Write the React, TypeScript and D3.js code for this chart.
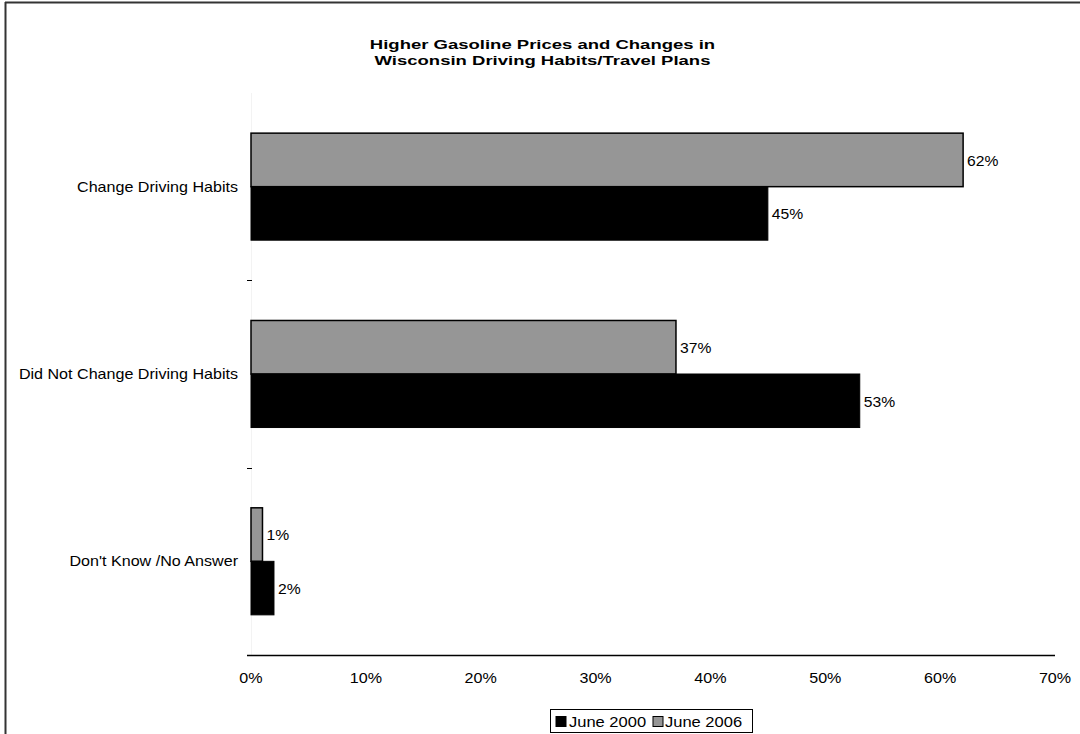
import React from "react";
import * as d3 from "d3";

const categories = ["Change Driving Habits", "Did Not Change Driving Habits", "Don't Know /No Answer"];
const seriesNames = ["June 2000", "June 2006"];
const june2000 = [45, 53, 2];
const june2006 = [62, 37, 1];
const xTicks = [0, 10, 20, 30, 40, 50, 60, 70];
const titleLines = ["Higher Gasoline Prices and Changes in", "Wisconsin Driving Habits/Travel Plans"];

const W = 1080;
const H = 734;
const FONT = "'Liberation Sans', Arial, Helvetica, sans-serif";
const GREY = "#969696";

type STextProps = {
  x: number;
  y: number;
  sx: number;
  size: number;
  anchor?: "start" | "middle" | "end";
  bold?: boolean;
  dy?: string;
  children: React.ReactNode;
};

function SText({ x, y, sx, size, anchor = "start", bold, dy, children }: STextProps) {
  return (
    <text
      transform={`translate(${x},${y}) scale(${sx},1)`}
      textAnchor={anchor}
      fontSize={size}
      fontWeight={bold ? "bold" : "normal"}
      dy={dy}
      fill="#000"
    >
      {children}
    </text>
  );
}

export default function App() {
  const left = 251, right = 1055, top = 93, bottom = 655;
  const x = d3.scaleLinear().domain([0, 70]).range([left, right]);
  const y = d3.scaleBand<string>().domain(categories).range([top, bottom]);
  const bw = y.bandwidth();
  const barH = bw / 3.5;
  const inner = d3.scaleBand<string>().domain(["June 2006", "June 2000"]).range([bw / 2 - barH, bw / 2 + barH]);

  const rows = categories.map((c, i) => ({ c, v2000: june2000[i], v2006: june2006[i] }));

  return (
    <svg width={W} height={H} style={{ position: "absolute", left: 0, top: 0, display: "block" }} fontFamily={FONT}>
      <rect x={0} y={0} width={W} height={H} fill="#fff" />
      {/* frame */}
      <line x1={5.5} y1={2} x2={5.5} y2={H} stroke="#333" strokeWidth={2} />
      <line x1={5} y1={2.5} x2={W} y2={2.5} stroke="#333" strokeWidth={2} />
      {/* title */}
      {titleLines.map((t, i) => (
        <SText key={i} x={542.5} y={49 + i * 16} sx={1.37} size={13.5} anchor="middle" bold>
          {t}
        </SText>
      ))}
      {/* faint category axis */}
      <line x1={left + 0.5} y1={top} x2={left + 0.5} y2={bottom} stroke="#f3f3f3" strokeWidth={1} />
      {/* bars */}
      {rows.map((r) => {
        const y0 = y(r.c)!;
        const yg = y0 + inner("June 2006")!;
        const yb = y0 + inner("June 2000")!;
        const h = inner.bandwidth();
        return (
          <g key={r.c}>
            <rect x={x(0)} y={yg} width={x(r.v2006) - x(0)} height={h} fill={GREY} stroke="#000" strokeWidth={1.5} />
            <rect x={x(0)} y={yb} width={x(r.v2000) - x(0)} height={h} fill="#000" stroke="#000" strokeWidth={1} />
            <SText x={x(r.v2006) + 4} y={yg + h / 2 + 1} dy="0.35em" sx={1.12} size={14}>
              {r.v2006}%
            </SText>
            <SText x={x(r.v2000) + 4} y={yb + h / 2 + 1} dy="0.35em" sx={1.12} size={14}>
              {r.v2000}%
            </SText>
            <SText x={238} y={y0 + bw / 2} dy="0.35em" anchor="end" sx={1.15} size={14}>
              {r.c}
            </SText>
          </g>
        );
      })}
      {/* category tick marks between categories */}
      {categories.slice(1).map((c) => (
        <line key={c} x1={247} x2={252} y1={Math.round(y(c)!) + 0.5} y2={Math.round(y(c)!) + 0.5} stroke="#000" strokeWidth={1} />
      ))}
      {/* x axis */}
      <line x1={247} x2={x(70)} y1={bottom + 0.5} y2={bottom + 0.5} stroke="#000" strokeWidth={1.5} />
      {xTicks.map((t) => (
        <SText key={t} x={x(t)} y={683} anchor="middle" sx={1.15} size={14}>
          {t}%
        </SText>
      ))}
      {/* legend */}
      <rect x={550.5} y={709.5} width={202} height={23} fill="#fff" stroke="#000" strokeWidth={1} />
      <rect x={556} y={716.5} width={10} height={10} fill="#000" stroke="#000" />
      <SText x={569} y={726.5} sx={1.18} size={14}>{seriesNames[0]}</SText>
      <rect x={653} y={716.5} width={10} height={10} fill={GREY} stroke="#000" />
      <SText x={665} y={726.5} sx={1.18} size={14}>{seriesNames[1]}</SText>
    </svg>
  );
}
